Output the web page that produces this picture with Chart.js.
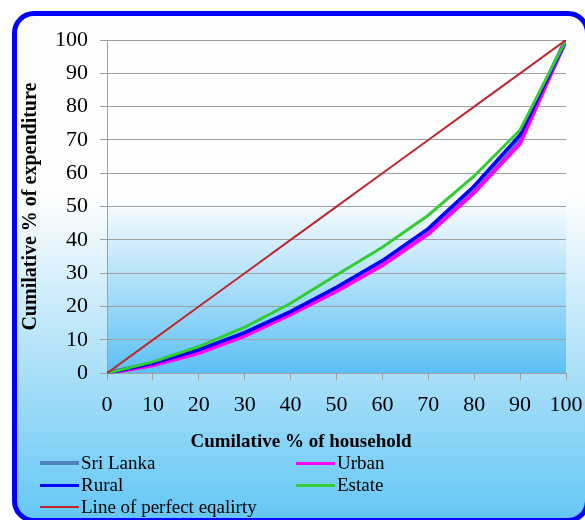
<!DOCTYPE html>
<html>
<head>
<meta charset="utf-8">
<script src="https://cdn.jsdelivr.net/npm/chart.js@4.4.1/dist/chart.umd.min.js"></script>
<style>
  html, body { margin: 0; padding: 0; width: 585px; height: 520px; overflow: hidden; background: #fff; }
  #frame {
    position: absolute; left: 12px; top: 11px; width: 578px; height: 512px;
    box-sizing: border-box; border: 5px solid #0000ff; border-radius: 22px;
    background: linear-gradient(to bottom, #fdfdfd 0%, #fdfdfd 36%, #65c7f5 100%);
  }
  #wrap { position: absolute; left: 17px; top: 17px; width: 568px; height: 440px; }
  #legend {
    position: absolute; left: 40px; top: 452px; width: 520px;
    display: grid; grid-template-columns: 256px 256px; grid-auto-rows: 22px;
    font-family: 'Liberation Serif', 'Times New Roman', serif; font-size: 19px; color: #000;
  }
  .item { display: flex; align-items: center; white-space: nowrap; }
  .swatch { width: 39px; margin-right: 2px; }
</style>
</head>
<body>
<div id="frame"></div>
<div id="wrap"><canvas id="canvas"></canvas></div>
<div id="legend"></div>
<script>
// cumulative % of household (x) and cumulative % of expenditure (y)
var household = [0, 10, 20, 30, 40, 50, 60, 70, 80, 90, 100];
var sriLanka = [0, 2.8, 6.7, 11.9, 18.2, 25.4, 33.3, 42.9, 55.6, 70.8, 100];
var urban    = [0, 2.4, 6.0, 11.2, 17.6, 24.6, 32.4, 41.8, 54.2, 69.0, 100];
var rural    = [0, 3.0, 7.0, 12.2, 18.5, 25.8, 33.8, 43.4, 56.2, 71.5, 100];
var estate   = [0, 3.4, 8.0, 13.8, 21.0, 29.5, 37.8, 47.4, 59.2, 73.0, 100];
var equality = [0, 10, 20, 30, 40, 50, 60, 70, 80, 90, 100];
var yTicks = [0, 10, 20, 30, 40, 50, 60, 70, 80, 90, 100];

var serif = "'Liberation Serif', 'Times New Roman', serif";

function toPoints(ys) {
    return household.map(function(x, i){
        return { x: x, y: ys[i] };
    });
}

// light blue fill of the plot area, white in the upper half
const plotBg = {
    id: 'plotBg',
    beforeDraw: function(chart) {
        const a = chart.chartArea;
        const ctx = chart.ctx;
        const g = ctx.createLinearGradient(0, a.top, 0, a.bottom);
        g.addColorStop(0, '#fdfdfd');
        g.addColorStop(0.47, '#fdfeff');
        g.addColorStop(1, '#5bc0f4');
        ctx.save();
        ctx.fillStyle = g;
        ctx.fillRect(a.left, a.top, a.right - a.left, a.bottom - a.top);
        ctx.restore();
    }
};

const ctx = document.getElementById('canvas');
const myChart = new Chart(ctx, {
    type: 'line',
    data: {
        datasets: [
            { label: 'Sri Lanka', data: toPoints(sriLanka), borderColor: '#4f81bd', borderWidth: 5, order: 4, legendWidth: 4 },
            { label: 'Urban', data: toPoints(urban), borderColor: '#ff00ff', borderWidth: 4, order: 3, legendWidth: 3 },
            { label: 'Rural', data: toPoints(rural), borderColor: '#0000ff', borderWidth: 3.5, order: 2, legendWidth: 3 },
            { label: 'Estate', data: toPoints(estate), borderColor: '#33cc33', borderWidth: 3, order: 1, legendWidth: 3 },
            { label: 'Line of perfect eqalirty', data: toPoints(equality), borderColor: '#c0272d', borderWidth: 2, order: 0, legendWidth: 2 }
        ]
    },
    options: {
        responsive: true,
        maintainAspectRatio: false,
        animation: false,
        elements: {
            line: { tension: 0, fill: false },
            point: { radius: 0 }
        },
        layout: { padding: { top: 23, right: 19, left: 19, bottom: 0 } },
        plugins: {
            legend: { display: false },
            tooltip: { enabled: false },
            title: {
                display: true,
                position: 'bottom',
                text: 'Cumilative % of household',
                color: '#000',
                font: { family: serif, size: 19, weight: 'bold' },
                padding: { top: 12, bottom: 4 }
            }
        },
        scales: {
            x: {
                type: 'linear',
                min: 0,
                max: 100,
                afterBuildTicks: function(scale) {
                    scale.ticks = household.map(function(v){ return { value: v }; });
                },
                afterFit: function(scale) {
                    scale.height = 45;
                    scale.paddingLeft = 0;
                    scale.paddingRight = 0;
                },
                grid: { drawOnChartArea: false, color: '#a0a0a0', tickLength: 7 },
                border: { color: '#a0a0a0' },
                ticks: { color: '#000', font: { family: serif, size: 22 }, padding: 12, maxRotation: 0 }
            },
            y: {
                min: 0,
                max: 100,
                afterBuildTicks: function(scale) {
                    scale.ticks = yTicks.map(function(v){ return { value: v }; });
                },
                afterFit: function(scale) {
                    scale.width = 71;
                    scale.paddingTop = 0;
                    scale.paddingBottom = 0;
                },
                grid: { color: '#a0a0a0', tickLength: 7 },
                border: { color: '#a0a0a0' },
                ticks: { color: '#000', font: { family: serif, size: 22 }, padding: 12 },
                title: {
                    display: true,
                    text: 'Cumilative % of expenditure',
                    color: '#000',
                    font: { family: serif, size: 20, weight: 'bold' },
                    padding: { top: -17, bottom: 0 }
                }
            }
        }
    },
    plugins: [plotBg]
});

// legend in two columns below the chart, built from the datasets
var legendEl = document.getElementById('legend');
myChart.data.datasets.forEach(function(ds){
    var item = document.createElement('div');
    item.className = 'item';
    var sw = document.createElement('span');
    sw.className = 'swatch';
    sw.style.borderTop = ds.legendWidth + 'px solid ' + ds.borderColor;
    item.appendChild(sw);
    item.appendChild(document.createTextNode(ds.label));
    legendEl.appendChild(item);
});
</script>
</body>
</html>
